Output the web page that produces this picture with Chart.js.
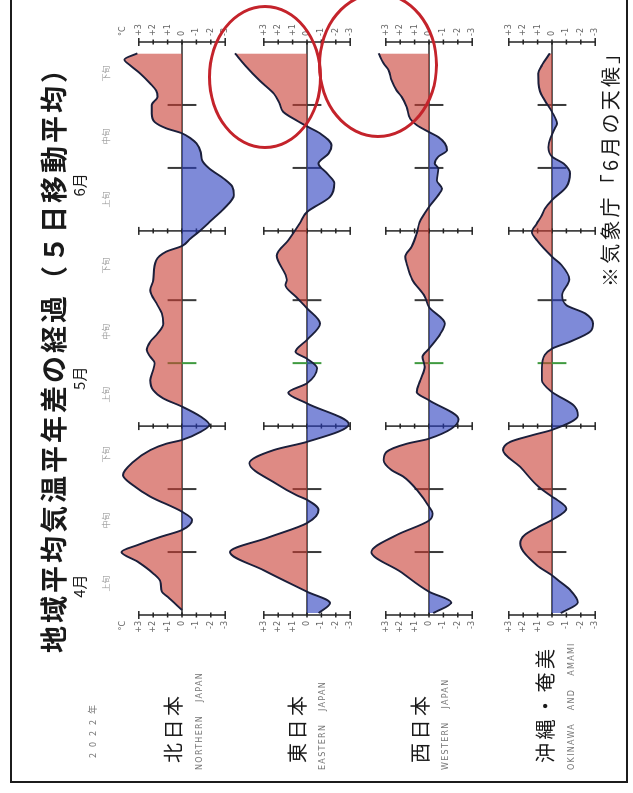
<!DOCTYPE html>
<html lang="ja">
<head>
<meta charset="utf-8">
<title>地域平均気温平年差の経過</title>
<script src="https://cdn.jsdelivr.net/npm/chart.js@4.4.1/dist/chart.umd.min.js"></script>
<style>
  html, body { margin: 0; padding: 0; background: #fff; }
  body { width: 633px; height: 793px; overflow: hidden; position: relative; }
  /* the sheet is laid out sideways (793 x 633) and turned to portrait */
  #sheet {
    position: absolute; left: 0; top: 0; width: 793px; height: 633px;
    transform-origin: 0 0; transform: translate(0, 793px) rotate(-90deg);
    overflow: hidden; font-family: "Noto Sans CJK JP", "Noto Sans", sans-serif; color: #1a1a1a;
  }
  #sheet canvas { position: absolute; left: 0; top: 0; }
  .t { position: absolute; white-space: nowrap; line-height: 1; }
  .frame { position: absolute; left: 10px; top: 10px; width: 800px; height: 618px; box-sizing: border-box; border: 2px solid #1c1c1c; }
  .oval { position: absolute; border: 3px solid #c4232b; border-radius: 50%; box-sizing: border-box; }
  .region { font-size: 20px; letter-spacing: 3.5px; left: 30px; }
  .eng { font-size: 8px; letter-spacing: 1.3px; word-spacing: 9px; color: #777; left: 23px; font-family: "DejaVu Sans", sans-serif; }
  .dekad { font-size: 8px; color: #999; transform: translateX(-50%); }
  .month { font-size: 15px; transform: translateX(-50%); }
</style>
</head>
<body>
<div id="sheet">
  <div class="frame"></div>
  <canvas id="anomChart" width="793" height="633"></canvas>

  <div class="t" style="left:140px; top:39px; font-size:27px; letter-spacing:3px; font-weight:700;">地域平均気温平年差の経過（５日移動平均）</div>
  <div class="t" style="left:35px; top:88px; font-size:9px; letter-spacing:6px; color:#777;">2022年</div>

  <div class="t region" style="top:163px;">北日本</div>
  <div class="t eng" style="top:196px;">NORTHERN JAPAN</div>
  <div class="t region" style="top:287px;">東日本</div>
  <div class="t eng" style="top:319px;">EASTERN JAPAN</div>
  <div class="t region" style="top:410px;">西日本</div>
  <div class="t eng" style="top:442px;">WESTERN JAPAN</div>
  <div class="t region" style="top:535px;">沖縄・奄美</div>
  <div class="t eng" style="top:568px;">OKINAWA AND AMAMI</div>

  <div class="t" style="left:506px; top:600px; font-size:20px; letter-spacing:3.2px;">※気象庁「6月の天候」</div>

  <div class="oval" style="left:644px; top:208px; width:144px; height:114px;"></div>
  <div class="oval" style="left:655px; top:318px; width:146px; height:120px;"></div>
</div>

<script>
// days counted from 1 April 2022 (0 = Apr 1, 91 = Jul 1)
var northDays  = [0.8, 2.9, 3.7, 5.3, 6.6, 8.5, 10.0, 11.1, 12.4, 13.5, 15.1, 16.4, 18.8, 20.6, 22.2, 24.3, 26.2, 27.2, 27.8, 29.1, 30.2, 31.5, 33.1, 34.4, 35.7, 37.3, 38.9, 40.0, 41.0, 42.1, 43.4, 44.7, 46.3, 47.9, 49.2, 51.6, 53.2, 56.3, 57.7, 58.6, 59.8, 61.1, 62.4, 64.5, 66.7, 68.0, 69.3, 70.9, 72.2, 73.5, 74.9, 75.7, 76.5, 77.3, 78.3, 79.6, 81.0, 82.3, 83.3, 84.4, 86.0, 87.3, 88.2, 89.2];
var northTemps = [0.0, 1.0, 1.4, 1.5, 2.0, 3.1, 4.2, 3.1, 1.5, 0.0, -0.7, 0.0, 2.2, 3.4, 4.1, 3.4, 2.2, 1.1, 0.0, -1.3, -1.9, -1.3, 0.0, 1.3, 2.0, 2.2, 2.0, 1.9, 2.2, 2.45, 2.2, 1.7, 1.3, 1.4, 1.7, 2.2, 2.0, 1.8, 1.1, 0.0, -0.6, -1.3, -1.9, -2.9, -3.6, -3.5, -2.9, -1.9, -1.4, -1.3, -1.0, -0.6, 0.0, 1.1, 1.9, 2.1, 2.1, 1.7, 1.8, 2.2, 2.9, 3.6, 4.0, 3.1];

var eastDays  = [0.3, 1.9, 3.7, 7.1, 10.0, 12.3, 14.6, 16.7, 18.3, 19.0, 20.8, 24.1, 26.2, 27.5, 30.3, 33.6, 35.3, 36.8, 39.2, 40.7, 41.8, 43.7, 46.3, 48.7, 50.5, 52.4, 53.2, 57.1, 59.5, 62.2, 64.0, 66.4, 68.6, 70.1, 71.7, 73.3, 74.6, 76.5, 77.6, 78.5, 79.9, 81.2, 82.8, 84.9, 87.3, 89.2];
var eastTemps = [-0.8, -1.6, 0.0, 3.0, 5.35, 2.7, 0.0, -0.8, 0.0, 0.7, 2.1, 4.0, 2.3, 0.0, -2.9, 0.0, 1.3, 0.0, -0.7, 0.0, 0.8, 0.0, -0.9, 0.0, 0.75, 1.5, 1.4, 2.1, 1.3, 0.5, 0.0, -1.6, -1.9, -1.4, -0.8, -1.5, -1.7, -0.9, 0.0, 0.7, 1.65, 1.9, 2.3, 3.3, 4.3, 5.0];

var westDays  = [0.3, 2.0, 3.7, 6.9, 10.0, 12.7, 15.0, 16.1, 17.2, 19.6, 22.0, 23.0, 24.6, 25.9, 27.2, 28.0, 31.1, 34.1, 35.4, 37.3, 39.4, 41.0, 42.3, 44.7, 46.3, 48.9, 50.6, 53.2, 55.8, 56.9, 58.5, 60.6, 62.4, 64.8, 66.7, 67.7, 69.0, 70.9, 71.7, 72.8, 73.8, 74.9, 75.9, 76.7, 77.8, 78.8, 80.7, 82.3, 83.3, 84.9, 86.5, 87.6, 89.2];
var westTemps = [-0.3, -1.55, 0.0, 2.0, 4.0, 2.25, 0.0, -0.25, 0.0, 0.75, 1.8, 2.6, 3.15, 2.95, 1.55, 0.0, -2.05, 0.0, 0.85, 0.6, 0.3, 0.45, 0.0, -0.8, -1.1, 0.0, 0.3, 1.15, 1.55, 1.65, 1.2, 0.85, 0.65, 0.0, -0.65, -0.9, -0.55, -0.65, -0.4, -0.65, -1.25, -1.1, -0.65, 0.0, 0.85, 1.3, 1.55, 1.9, 2.25, 2.6, 2.8, 3.15, 3.5];

var okinawaDays  = [0.3, 2.0, 4.0, 5.3, 6.3, 7.9, 11.4, 12.7, 14.0, 15.1, 16.9, 18.3, 18.8, 20.4, 23.5, 26.2, 27.5, 28.6, 29.4, 31.7, 33.3, 34.9, 35.4, 37.3, 39.2, 41.3, 42.3, 43.4, 45.0, 46.3, 47.9, 49.2, 50.8, 53.3, 55.6, 56.9, 59.5, 60.8, 62.2, 63.5, 64.5, 65.9, 68.0, 70.1, 71.7, 72.8, 74.3, 75.8, 77.3, 78.0, 79.9, 81.7, 83.3, 86.0, 87.3, 89.2];
var okinawaTemps = [-0.6, -1.8, -1.25, -0.55, 0.0, 1.05, 2.2, 1.9, 0.95, 0.0, -1.0, -0.35, 0.0, 0.95, 2.2, 3.4, 2.9, 1.3, 0.0, -1.8, -1.5, -0.35, 0.0, 0.7, 0.7, 0.5, 0.0, -1.25, -2.65, -2.85, -2.3, -1.0, -0.7, -1.2, -0.65, 0.0, 1.05, 1.4, 1.05, 0.7, 0.5, 0.0, -1.0, -1.25, -0.8, 0.0, 0.25, 0.1, -0.2, -0.35, 0.0, 0.5, 0.85, 0.95, 0.7, 0.15];

var regionNames = ['北日本', '東日本', '西日本', '沖縄・奄美'];
var regionAxes = ['yN', 'yE', 'yW', 'yO'];
var regionDays = [northDays, eastDays, westDays, okinawaDays];
var regionTemps = [northTemps, eastTemps, westTemps, okinawaTemps];

var tickValues = [3, 2, 1, 0, -1, -2, -3];
var tickLabels = ['+3', '+2', '+1', '0', '-1', '-2', '-3'];
var monthBarDays = [0, 30, 61, 91];         // Apr 1, May 1, Jun 1, Jul 1
var dekadMarkDays = [10, 20, 40, 50, 71, 81];
var dekadLabelDays = [5, 15, 25.5, 35, 45, 55.5, 66, 76, 86];
var dekadLabels = ['上旬', '中旬', '下旬', '上旬', '中旬', '下旬', '上旬', '中旬', '下旬'];
var monthLabelDays = [4.6, 37.6, 68.3];
var monthLabels = ['4月', '5月', '6月'];

// sheet geometry (sideways frame, 793 x 633)
var W = 793, H = 633;
var aprPx = 178, julPx = 751;
var pxPerDay = (julPx - aprPx) / 91;
var zeroPx = [182, 307, 429, 552];
var pxPerDeg = 14.4;

var warmFill = 'rgba(200, 60, 50, 0.6)';
var coolFill = 'rgba(40, 60, 190, 0.6)';
var lineColor = '#1b1f3b';

function seg(ctx, x1, y1, x2, y2) {
    ctx.beginPath();
    ctx.moveTo(x1, y1);
    ctx.lineTo(x2, y2);
    ctx.stroke();
}

var decor = {
    id: 'decor',
    beforeDatasetsDraw: function (chart) {
        var ctx = chart.ctx;
        var xs = chart.scales.x;
        ctx.save();
        regionAxes.forEach(function (id, k) {
            var ys = chart.scales[id];
            var y0 = ys.getPixelForValue(0);

            ctx.strokeStyle = '#2a2a2a';
            ctx.lineWidth = 1.4;
            seg(ctx, xs.getPixelForValue(0), y0, xs.getPixelForValue(91), y0);

            // month bars with degree ticks
            monthBarDays.forEach(function (d) {
                var x = xs.getPixelForValue(d);
                ctx.strokeStyle = '#222';
                ctx.lineWidth = 1.5;
                seg(ctx, x, ys.getPixelForValue(3), x, ys.getPixelForValue(-3));
                tickValues.forEach(function (v) {
                    var y = ys.getPixelForValue(v);
                    var h = Math.abs(v) === 3 ? 4 : 2.5;
                    seg(ctx, x - h, y, x + h, y);
                });
            });

            // dekad marks
            dekadMarkDays.forEach(function (d) {
                var x = xs.getPixelForValue(d);
                ctx.strokeStyle = d === 40 ? '#3f9a3f' : '#3a3a3a';
                ctx.lineWidth = 2;
                seg(ctx, x, ys.getPixelForValue(1), x, ys.getPixelForValue(-1));
            });

            // degree labels at both ends
            ctx.fillStyle = '#666';
            ctx.font = '8px "DejaVu Sans"';
            ctx.textBaseline = 'middle';
            var xl = xs.getPixelForValue(0) - 6;
            var xr = xs.getPixelForValue(91) + 6;
            tickValues.forEach(function (v, i) {
                var y = ys.getPixelForValue(v);
                ctx.textAlign = 'right';
                ctx.fillText(tickLabels[i], xl, y);
                ctx.textAlign = 'left';
                ctx.fillText(tickLabels[i], xr, y);
            });
            if (k === 0) {
                var yc = ys.getPixelForValue(4.1);
                ctx.textAlign = 'right';
                ctx.fillText('°C', xl, yc);
                ctx.textAlign = 'left';
                ctx.fillText('°C', xr, yc);
            }
        });
        ctx.restore();
    }
};

var scales = {
    x: { type: 'linear', display: false, min: -aprPx / pxPerDay, max: (W - aprPx) / pxPerDay }
};
regionAxes.forEach(function (id, k) {
    scales[id] = { type: 'linear', display: false, min: -(H - zeroPx[k]) / pxPerDeg, max: zeroPx[k] / pxPerDeg };
});

var datasets = regionDays.map(function (days, k) {
    return {
        label: regionNames[k],
        yAxisID: regionAxes[k],
        data: days.map(function (d, i) { return { x: d, y: regionTemps[k][i] }; }),
        borderColor: lineColor,
        borderWidth: 1.9,
        pointRadius: 0,
        cubicInterpolationMode: 'monotone',
        fill: { target: 'origin', above: warmFill, below: coolFill }
    };
});

var anomChart = new Chart(document.getElementById('anomChart'), {
    type: 'line',
    data: { datasets: datasets },
    options: {
        responsive: false,
        animation: false,
        devicePixelRatio: 1,
        layout: { padding: 0 },
        scales: scales,
        plugins: {
            legend: { display: false },
            tooltip: { enabled: false }
        }
    },
    plugins: [decor]
});

// month and dekad names along the time axis
var sheet = document.getElementById('sheet');
var xScale = anomChart.scales.x;
monthLabels.forEach(function (txt, i) {
    var el = document.createElement('div');
    el.className = 't month';
    el.textContent = txt;
    el.style.left = xScale.getPixelForValue(monthLabelDays[i]) + 'px';
    el.style.top = '71px';
    sheet.appendChild(el);
});
dekadLabels.forEach(function (txt, i) {
    var el = document.createElement('div');
    el.className = 't dekad';
    el.textContent = txt;
    el.style.left = xScale.getPixelForValue(dekadLabelDays[i]) + 'px';
    el.style.top = '102px';
    sheet.appendChild(el);
});
</script>
</body>
</html>
